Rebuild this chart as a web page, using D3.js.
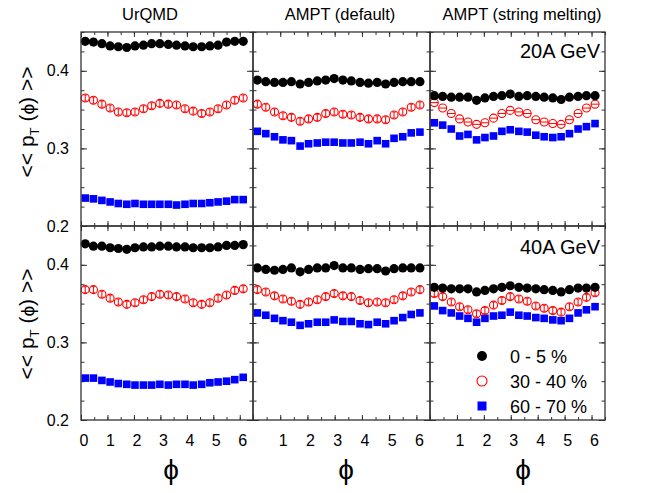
<!DOCTYPE html>
<html><head><meta charset="utf-8">
<script src="https://cdn.jsdelivr.net/npm/d3@7"></script>
<style>body{margin:0;background:#fff;} svg{display:block;}</style>
</head><body><svg id="c" width="649" height="493"></svg>
<script>
// ---- data ----
const phi = [0.16,0.47,0.79,1.10,1.41,1.73,2.04,2.36,2.67,2.98,3.30,3.61,3.93,4.24,4.56,4.87,5.18,5.50,5.81,6.13];
const models = ["UrQMD","AMPT (default)","AMPT (string melting)"];
const energies = ["20A GeV","40A GeV"];
const centralities = ["0 - 5 %","30 - 40 %","60 - 70 %"];
const yTicks = [0.2,0.3,0.4];
const xTicksFirst = [0,1,2,3,4,5,6];
const xTicksOther = [1,2,3,4,5,6];

// 20A GeV
const urqmd20_c0 = [0.438,0.437,0.435,0.432,0.431,0.430,0.432,0.433,0.435,0.435,0.434,0.433,0.432,0.431,0.431,0.432,0.433,0.437,0.438,0.438];
const urqmd20_c1 = [0.365,0.362,0.357,0.352,0.347,0.346,0.347,0.351,0.355,0.358,0.357,0.356,0.351,0.348,0.345,0.347,0.351,0.356,0.362,0.365];
const urqmd20_c2 = [0.236,0.235,0.233,0.231,0.229,0.228,0.229,0.228,0.228,0.228,0.228,0.227,0.228,0.229,0.229,0.230,0.231,0.232,0.234,0.234];
const amptd20_c0 = [0.388,0.386,0.385,0.385,0.386,0.383,0.385,0.387,0.388,0.390,0.388,0.387,0.385,0.384,0.385,0.383,0.385,0.386,0.386,0.386];
const amptd20_c1 = [0.357,0.353,0.347,0.342,0.340,0.335,0.338,0.340,0.345,0.347,0.344,0.343,0.340,0.338,0.338,0.337,0.343,0.347,0.353,0.356];
const amptd20_c2 = [0.322,0.319,0.315,0.311,0.310,0.303,0.306,0.307,0.308,0.308,0.307,0.307,0.308,0.306,0.310,0.306,0.313,0.315,0.320,0.321];
const ampts20_c0 = [0.368,0.367,0.366,0.366,0.366,0.362,0.365,0.367,0.368,0.370,0.367,0.368,0.367,0.366,0.365,0.363,0.366,0.367,0.368,0.368];
const ampts20_c1 = [0.359,0.352,0.345,0.338,0.334,0.331,0.333,0.339,0.345,0.349,0.347,0.345,0.337,0.334,0.332,0.331,0.337,0.345,0.352,0.357];
const ampts20_c2 = [0.333,0.330,0.325,0.316,0.318,0.311,0.314,0.316,0.322,0.324,0.322,0.321,0.317,0.315,0.314,0.315,0.319,0.325,0.328,0.332];
// 40A GeV
const urqmd40_c0 = [0.427,0.424,0.424,0.422,0.421,0.420,0.422,0.423,0.423,0.424,0.424,0.423,0.423,0.422,0.422,0.422,0.423,0.425,0.425,0.426];
const urqmd40_c1 = [0.368,0.368,0.362,0.357,0.352,0.349,0.351,0.355,0.359,0.362,0.361,0.359,0.356,0.351,0.349,0.351,0.357,0.361,0.367,0.369];
const urqmd40_c2 = [0.254,0.254,0.251,0.249,0.247,0.246,0.245,0.245,0.245,0.246,0.245,0.246,0.246,0.245,0.246,0.248,0.249,0.250,0.252,0.255];
const amptd40_c0 = [0.396,0.394,0.393,0.394,0.396,0.391,0.394,0.396,0.396,0.399,0.396,0.396,0.394,0.395,0.395,0.392,0.395,0.396,0.396,0.396];
const amptd40_c1 = [0.368,0.365,0.360,0.356,0.353,0.349,0.352,0.355,0.359,0.363,0.360,0.359,0.354,0.351,0.352,0.351,0.355,0.360,0.365,0.368];
const amptd40_c2 = [0.338,0.335,0.331,0.328,0.326,0.322,0.324,0.326,0.326,0.329,0.327,0.327,0.324,0.323,0.326,0.324,0.328,0.332,0.336,0.338];
const ampts40_c0 = [0.371,0.370,0.369,0.369,0.369,0.365,0.367,0.369,0.371,0.373,0.371,0.370,0.369,0.368,0.367,0.365,0.368,0.370,0.370,0.371];
const ampts40_c1 = [0.363,0.359,0.352,0.346,0.342,0.337,0.341,0.348,0.354,0.359,0.356,0.353,0.347,0.344,0.341,0.339,0.346,0.352,0.358,0.364];
const ampts40_c2 = [0.347,0.341,0.338,0.334,0.331,0.326,0.331,0.334,0.335,0.339,0.335,0.334,0.332,0.331,0.329,0.328,0.331,0.338,0.342,0.346];

const panelData = [
  [[urqmd20_c0,urqmd20_c1,urqmd20_c2],[amptd20_c0,amptd20_c1,amptd20_c2],[ampts20_c0,ampts20_c1,ampts20_c2]],
  [[urqmd40_c0,urqmd40_c1,urqmd40_c2],[amptd40_c0,amptd40_c1,amptd40_c2],[ampts40_c0,ampts40_c1,ampts40_c2]]
];

// ---- layout ----
const svg = d3.select("#c");
const colEdges = [81,253,430,605];
const rowEdges = [32,226,420];
const FONT = "Liberation Sans, Arial, sans-serif";
const PHIFONT = "Liberation Sans, Arial, sans-serif";
const frameColor = "#333";

const minorY = d3.range(0.2,0.4501,0.025).map(v=>+v.toFixed(3));
const minorX = d3.range(0,6.51,0.5);

for (let r=0;r<2;r++){
  for (let c=0;c<3;c++){
    const x0=colEdges[c], x1=colEdges[c+1], y0=rowEdges[r], y1=rowEdges[r+1];
    const w=x1-x0, h=y1-y0;
    const x=d3.scaleLinear([0,6.5],[0,w]);
    const y=d3.scaleLinear([0.2,0.45],[h,0]);
    const g=svg.append("g").attr("transform",`translate(${x0},${y0})`);

    const style = sel => { sel.select(".domain").remove(); sel.selectAll("line").attr("stroke",frameColor).attr("stroke-width",1); };
    g.append("g").call(d3.axisLeft(y).tickValues(minorY).tickSize(-3.5).tickFormat("")).call(style);
    g.append("g").call(d3.axisLeft(y).tickValues(yTicks).tickSize(-6).tickFormat("")).call(style);
    g.append("g").attr("transform",`translate(${w},0)`).call(d3.axisRight(y).tickValues(minorY).tickSize(-3.5).tickFormat("")).call(style);
    g.append("g").attr("transform",`translate(${w},0)`).call(d3.axisRight(y).tickValues(yTicks).tickSize(-6).tickFormat("")).call(style);
    g.append("g").attr("transform",`translate(0,${h})`).call(d3.axisBottom(x).tickValues(minorX).tickSize(-3).tickFormat("")).call(style);
    g.append("g").attr("transform",`translate(0,${h})`).call(d3.axisBottom(x).tickValues(xTicksFirst).tickSize(-5).tickFormat("")).call(style);
    g.append("g").call(d3.axisTop(x).tickValues(minorX).tickSize(-3).tickFormat("")).call(style);
    g.append("g").call(d3.axisTop(x).tickValues(xTicksFirst).tickSize(-5).tickFormat("")).call(style);

    if (c===0){
      const ay=g.append("g").call(d3.axisLeft(y).tickValues(yTicks).tickSize(0).tickPadding(12).tickFormat(d3.format(".1f")));
      ay.select(".domain").remove();
      ay.selectAll("text").attr("font-family",FONT).attr("font-size",16).attr("fill","#000");
    }
    if (r===1){
      const ax=g.append("g").attr("transform",`translate(0,${h})`)
        .call(d3.axisBottom(x).tickValues(c===0?xTicksFirst:xTicksOther).tickSize(0).tickPadding(15).tickFormat(d3.format("d")));
      ax.select(".domain").remove();
      ax.selectAll("text").attr("font-family",FONT).attr("font-size",16).attr("fill","#000").attr("dx",2.5);
    }

    const [s0,s1,s2]=panelData[r][c];
    g.selectAll(".sq").data(s2).join("rect")
      .attr("x",(d,i)=>x(phi[i])-3.8).attr("y",d=>y(d)-3.8).attr("width",7.6).attr("height",7.6).attr("fill","#0000ff");
    const rg=g.selectAll(".rc").data(s1).join("g").attr("transform",(d,i)=>`translate(${x(phi[i])},${y(d)})`);
    rg.append("circle").attr("r",4).attr("fill","none").attr("stroke","#ff0000").attr("stroke-width",1.1);
    if (r===0 && c===2){
      rg.append("line").attr("x1",-4).attr("x2",4).attr("y1",0).attr("y2",0).attr("stroke","#ff0000").attr("stroke-width",1);
    } else {
      rg.append("line").attr("x1",0).attr("x2",0).attr("y1",-3).attr("y2",3).attr("stroke","#ff0000").attr("stroke-width",1);
      rg.append("line").attr("x1",-2).attr("x2",2).attr("y1",-3).attr("y2",-3).attr("stroke","#ff0000").attr("stroke-width",0.8);
      rg.append("line").attr("x1",-2).attr("x2",2).attr("y1",3).attr("y2",3).attr("stroke","#ff0000").attr("stroke-width",0.8);
    }
    g.selectAll(".bc").data(s0).join("circle")
      .attr("cx",(d,i)=>x(phi[i])).attr("cy",d=>y(d)).attr("r",4.6).attr("fill","#000");

    g.append("rect").attr("width",w).attr("height",h).attr("fill","none").attr("stroke",frameColor).attr("stroke-width",1.3);
  }
}

const titleX=[150,340,522];
models.forEach((m,i)=>svg.append("text").attr("x",titleX[i]).attr("y",20).attr("text-anchor","middle")
  .attr("font-family",FONT).attr("font-size",16.5).text(m));
const eY=[58,254];
energies.forEach((e,i)=>svg.append("text").attr("x",600).attr("y",eY[i]).attr("text-anchor","end")
  .attr("font-family",FONT).attr("font-size",20).text(e));

[ 122, 324 ].forEach(cy=>{
  const t=svg.append("text").attr("transform",`translate(34,${cy}) rotate(-90)`).attr("text-anchor","middle")
    .attr("font-family",FONT).attr("font-size",21);
  t.append("tspan").text("<< p");
  t.append("tspan").attr("font-size",13).attr("dy",5).text("T");
  t.append("tspan").attr("dy",-5).text(" (");
  t.append("tspan").attr("font-family",PHIFONT).attr("font-size",19).text("\u03D5");
  t.append("tspan").text(") >>");
});
[171,346,523].forEach(cx=>svg.append("text").attr("x",cx).attr("y",479).attr("text-anchor","middle")
  .attr("font-family",PHIFONT).attr("font-size",28).text("\u03D5"));

const legY=[356,381,406];
const lg=svg.append("g");
centralities.forEach((c,i)=>{
  if(i===0) lg.append("circle").attr("cx",482).attr("cy",legY[i]).attr("r",5).attr("fill","#000");
  if(i===1) lg.append("circle").attr("cx",482).attr("cy",legY[i]).attr("r",5).attr("fill","none").attr("stroke","#ff0000").attr("stroke-width",1.1);
  if(i===2) lg.append("rect").attr("x",477.5).attr("y",legY[i]-4.5).attr("width",9).attr("height",9).attr("fill","#0000ff");
  lg.append("text").attr("x",510).attr("y",legY[i]+6.5).attr("font-family",FONT).attr("font-size",18).text(c);
});
</script></body></html>
